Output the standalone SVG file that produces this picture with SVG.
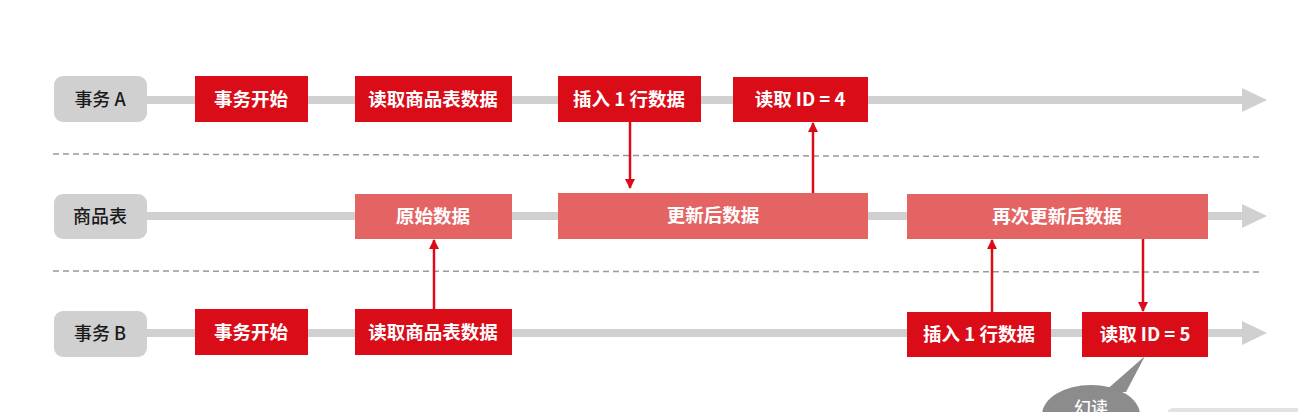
<svg xmlns="http://www.w3.org/2000/svg" width="1298" height="412" viewBox="0 0 1298 412">
<defs>
<style>
.lane{stroke:#d0d0d0;stroke-width:8;fill:none}
.lanehead{fill:#d0d0d0}
.pill{fill:#d0d0d0}
.pilltxt{font-family:"Noto Sans CJK SC","Noto Sans",sans-serif;font-size:18px;fill:#1a1a1a;text-anchor:middle;font-weight:500}
.red{fill:#d90c18}
.pink{fill:#e46464}
.btxt{font-family:"Noto Sans CJK SC","Noto Sans",sans-serif;font-size:18.5px;fill:#fff;text-anchor:middle;font-weight:600}
.dash{stroke:#999;stroke-width:1.5;stroke-dasharray:6 4;fill:none}
.conn{stroke:#d90c18;stroke-width:2.5;fill:none}
</style>
<marker id="ah" viewBox="0 0 10 10" refX="9" refY="5" markerWidth="4" markerHeight="4" orient="auto" markerUnits="strokeWidth">
<path d="M0,0 L10,5 L0,10 z" fill="#d90c18"/>
</marker>
</defs>
<rect width="1298" height="412" fill="#fff"/>
<g id="lanes">
<line class="lane" x1="147" y1="100" x2="1244" y2="100"/>
<polygon class="lanehead" points="1242,88 1267,100 1242,112"/>
<line class="lane" x1="147" y1="216" x2="1244" y2="216"/>
<polygon class="lanehead" points="1242,204 1267,216 1242,228"/>
<line class="lane" x1="147" y1="333" x2="1244" y2="333"/>
<polygon class="lanehead" points="1242,321 1267,333 1242,345"/>
<line class="dash" x1="53" y1="154" x2="1262" y2="157"/>
<line class="dash" x1="53" y1="271" x2="1262" y2="272"/>
</g>
<g id="label-a"><rect class="pill" x="54" y="76" width="93" height="46" rx="9"/><text class="pilltxt" x="100" y="106">事务 A</text></g>
<g id="label-table"><rect class="pill" x="54" y="194" width="93" height="45" rx="9"/><text class="pilltxt" x="100" y="223">商品表</text></g>
<g id="label-b"><rect class="pill" x="54" y="311" width="93" height="46" rx="9"/><text class="pilltxt" x="100" y="340">事务 B</text></g>
<g id="a-start"><rect class="red" x="195" y="76" width="113" height="46"/><text class="btxt" x="251" y="106">事务开始</text></g>
<g id="a-read"><rect class="red" x="355" y="76" width="157" height="46"/><text class="btxt" x="433" y="106">读取商品表数据</text></g>
<g id="a-insert"><rect class="red" x="558" y="76" width="143" height="46"/><text class="btxt" x="629" y="106">插入 1 行数据</text></g>
<g id="a-read4"><rect class="red" x="733" y="77" width="135" height="45"/><text class="btxt" x="800" y="106">读取 ID = 4</text></g>
<g id="t-orig"><rect class="pink" x="355" y="194" width="157" height="45"/><text class="btxt" x="433" y="223">原始数据</text></g>
<g id="t-upd"><rect class="pink" x="558" y="193" width="310" height="46"/><text class="btxt" x="713" y="222">更新后数据</text></g>
<g id="t-upd2"><rect class="pink" x="907" y="194" width="301" height="45"/><text class="btxt" x="1057" y="223">再次更新后数据</text></g>
<g id="b-start"><rect class="red" x="195" y="309" width="113" height="46"/><text class="btxt" x="251" y="339">事务开始</text></g>
<g id="b-read"><rect class="red" x="355" y="309" width="157" height="46"/><text class="btxt" x="433" y="339">读取商品表数据</text></g>
<g id="b-insert"><rect class="red" x="907" y="312" width="144" height="45"/><text class="btxt" x="979" y="341">插入 1 行数据</text></g>
<g id="b-read5"><rect class="red" x="1082" y="312" width="126" height="45"/><text class="btxt" x="1145" y="341">读取 ID = 5</text></g>
<g id="connectors">
<line class="conn" x1="630" y1="122" x2="630" y2="188" marker-end="url(#ah)"/>
<line class="conn" x1="813" y1="193" x2="813" y2="123" marker-end="url(#ah)"/>
<line class="conn" x1="434" y1="309" x2="434" y2="240" marker-end="url(#ah)"/>
<line class="conn" x1="992" y1="312" x2="992" y2="240" marker-end="url(#ah)"/>
<line class="conn" x1="1143" y1="239" x2="1143" y2="311" marker-end="url(#ah)"/>
</g>
<g id="bubble">
<rect x="1167" y="408" width="140" height="20" rx="6" fill="#e2e2e2"/>
<polygon points="1145,356 1104,392 1126,392" fill="#8c8c8c"/>
<ellipse cx="1091" cy="415" rx="49" ry="30" fill="#8c8c8c"/>
<text x="1091" y="414" font-family="'Noto Sans CJK SC','Noto Sans',sans-serif" font-size="17" fill="#fff" text-anchor="middle" font-weight="500">幻读</text>
</g>
</svg>
